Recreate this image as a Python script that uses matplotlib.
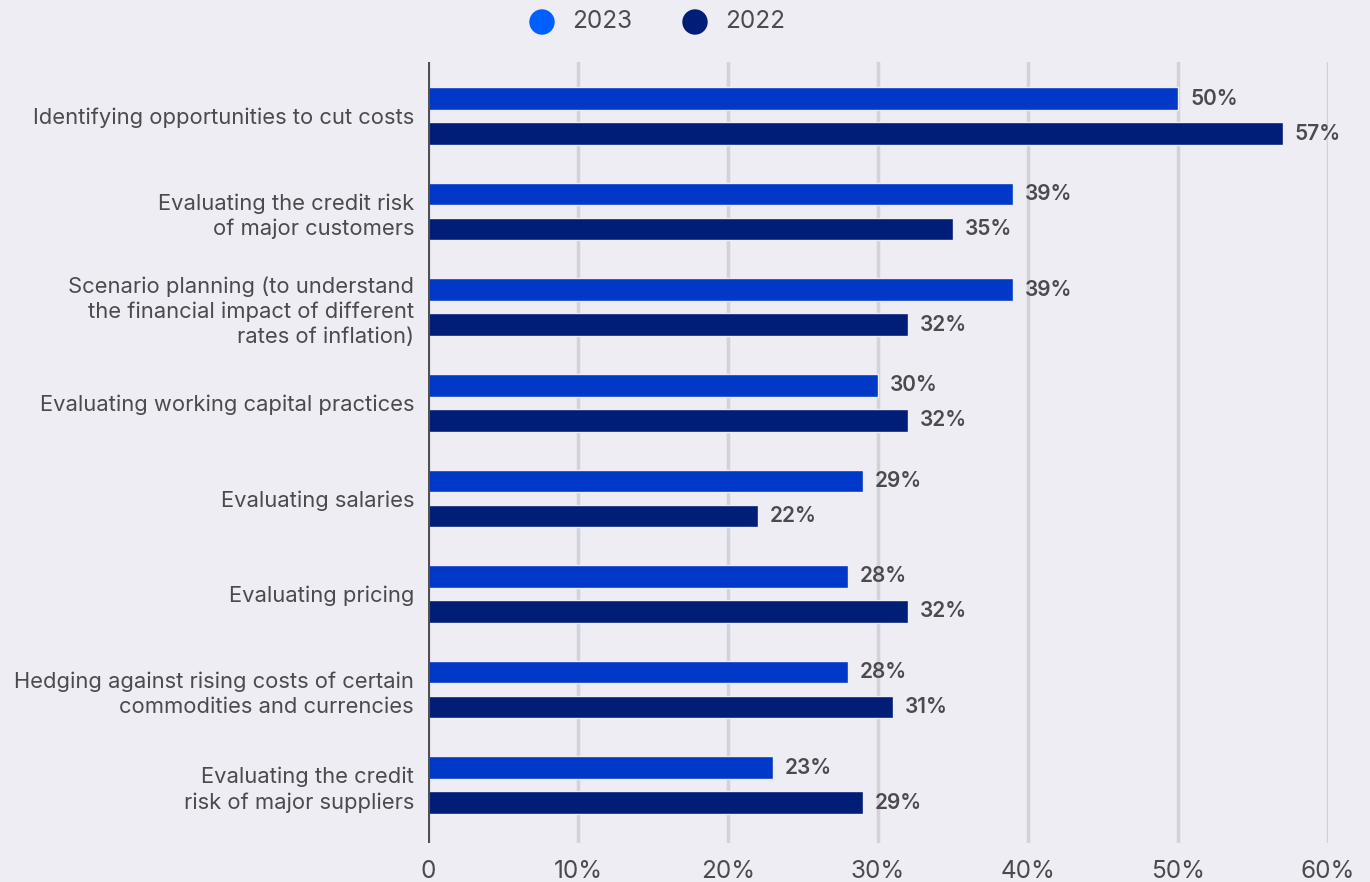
import matplotlib
matplotlib.use("Agg")
import matplotlib.pyplot as plt
import numpy as np

categories = [
    "Identifying opportunities to cut costs",
    "Evaluating the credit risk\nof major customers",
    "Scenario planning (to understand\nthe financial impact of different\nrates of inflation)",
    "Evaluating working capital practices",
    "Evaluating salaries",
    "Evaluating pricing",
    "Hedging against rising costs of certain\ncommodities and currencies",
    "Evaluating the credit\nrisk of major suppliers",
]
vals_2023 = [50, 39, 39, 30, 29, 28, 28, 23]
vals_2022 = [57, 35, 32, 32, 22, 32, 31, 29]
xticks = [0, 10, 20, 30, 40, 50, 60]
xtick_labels = ["0", "10%", "20%", "30%", "40%", "50%", "60%"]

BG = "#eeedf3"
C23 = "#0039c8"
C22 = "#001e78"
C23_DOT = "#0060ff"
TXT = "#4a4a4f"

plt.rcParams["font.family"] = ["Inter", "DejaVu Sans"]

fig = plt.figure(figsize=(13.7, 8.82), dpi=100, facecolor=BG)
ax = fig.add_axes([428 / 1370, 1 - 843 / 882, 900 / 1370, (843 - 62) / 882])
ax.set_facecolor(BG)

y = np.arange(len(categories))
off = 0.183
h = 0.235
ax.barh(y - off, vals_2023, height=h, color=C23, edgecolor=BG, linewidth=1, zorder=3)
ax.barh(y + off, vals_2022, height=h, color=C22, edgecolor=BG, linewidth=1, zorder=3)

for yi, v in zip(y - off, vals_2023):
    ax.text(v + 0.8, yi, f"{v}%", va="center", ha="left", fontsize=15,
            color=TXT, fontweight="semibold", zorder=4)
for yi, v in zip(y + off, vals_2022):
    ax.text(v + 0.8, yi, f"{v}%", va="center", ha="left", fontsize=15,
            color=TXT, fontweight="semibold", zorder=4)

ax.set_xlim(0, 60)
ax.set_ylim(7.605, -0.565)
for x in xticks[1:]:
    ax.axvline(x, color="#d2d2d9", linewidth=2.5, zorder=1)
ax.axvline(0, color="#4f4f55", linewidth=3, zorder=5)

for s in ax.spines.values():
    s.set_visible(False)
ax.set_xticks(xticks)
ax.set_xticklabels(xtick_labels, fontsize=17.5, color=TXT)
ax.tick_params(axis="x", length=0, pad=12)
ax.set_yticks(y)
ax.set_yticklabels(categories, fontsize=15.8, color=TXT, linespacing=1.3)
ax.tick_params(axis="y", length=0, pad=10)

# legend drawn in figure coordinates above the plot
for xc, col, lab in [(542, C23_DOT, "2023"), (695, C22, "2022")]:
    fig.patches.append(matplotlib.patches.Ellipse(
        (xc / 1370, 1 - 22 / 882), 24 / 1370, 24 / 882,
        transform=fig.transFigure, color=col))
    fig.text((xc + 30) / 1370, 1 - 22 / 882, lab, fontsize=17.5, color=TXT,
             va="center", ha="left")

fig.savefig("out.png", dpi=100, facecolor=BG)
